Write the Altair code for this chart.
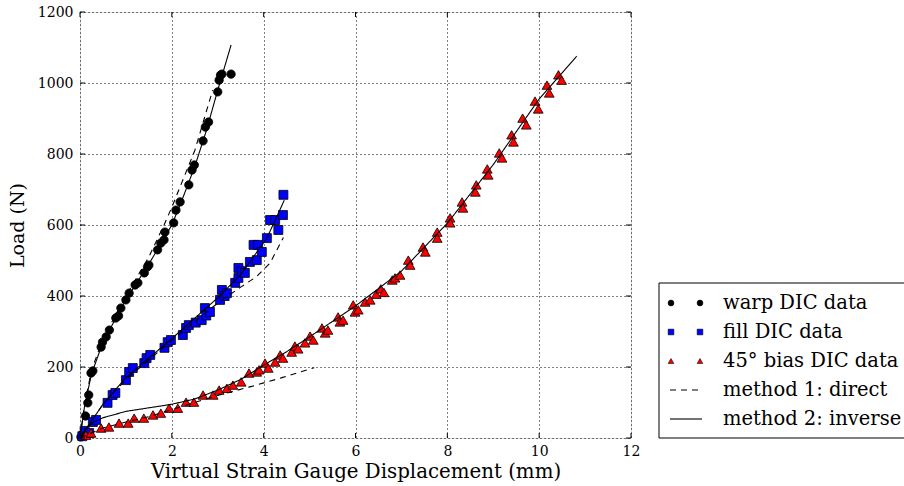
import altair as alt
import pandas as pd

# ---------------- data ----------------
warp_x = [0.02, 0.06, 0.12, 0.17, 0.19, 0.24, 0.28, 0.46, 0.49, 0.57, 0.64, 0.78, 0.84, 0.89, 1.00, 1.07,
          1.20, 1.26, 1.40, 1.47, 1.50, 1.69, 1.76, 1.83, 1.85, 2.04, 2.09, 2.18, 2.37, 2.44, 2.49, 2.68,
          2.73, 2.80, 3.00, 3.03, 3.06, 3.09, 3.29]
warp_y = [3, 11, 62, 99, 121, 183, 189, 256, 270, 285, 304, 338, 344, 366, 389, 408,
          431, 437, 465, 482, 487, 530, 549, 558, 580, 606, 642, 665, 713, 755, 769, 837,
          876, 890, 975, 1008, 1022, 1025, 1025]

fill_x = [0.05, 0.10, 0.20, 0.28, 0.35, 0.60, 0.71, 0.77, 1.00, 1.07, 1.15, 1.40, 1.45, 1.53, 1.84, 1.91,
          1.98, 2.24, 2.31, 2.37, 2.52, 2.65, 2.72, 2.75, 2.83, 3.05, 3.09, 3.15, 3.20, 3.38, 3.45, 3.45,
          3.52, 3.59, 3.70, 3.85, 3.78, 3.88, 3.96, 4.07, 4.14, 4.25, 4.32, 4.42, 4.43]
fill_y = [5, 20, 14, 45, 51, 99, 121, 127, 163, 186, 197, 211, 225, 234, 254, 270,
          276, 290, 310, 318, 325, 332, 366, 345, 355, 389, 417, 400, 408, 437, 451, 479,
          470, 465, 496, 501, 544, 544, 524, 563, 614, 614, 586, 628, 685]

bias_x = [0.13, 0.24, 0.46, 0.63, 0.85, 1.05, 1.18, 1.39, 1.59, 1.76, 1.94, 2.13, 2.31, 2.48, 2.68, 2.90,
          3.03, 3.20, 3.33, 3.51, 3.68, 3.85, 3.90, 4.03, 4.10, 4.25, 4.36, 4.42, 4.61, 4.68, 4.75, 4.90,
          5.01, 5.08, 5.27, 5.34, 5.40, 5.62, 5.66, 5.73, 5.95, 5.99, 6.06, 6.21, 6.32, 6.45, 6.55, 6.62,
          6.80, 6.86, 6.97, 7.15, 7.19, 7.47, 7.52, 7.78, 7.78, 8.06, 8.06, 8.32, 8.34, 8.61, 8.63, 8.87,
          8.89, 9.13, 9.19, 9.40, 9.44, 9.64, 9.72, 9.91, 9.98, 10.17, 10.22, 10.42, 10.49]
bias_y = [8, 14, 28, 31, 42, 42, 56, 56, 65, 70, 84, 84, 101, 101, 121, 121,
          135, 140, 149, 158, 183, 186, 192, 211, 197, 214, 234, 225, 242, 259, 251, 268,
          287, 276, 310, 296, 304, 341, 327, 332, 375, 355, 361, 383, 389, 405, 420, 410,
          445, 451, 459, 501, 487, 538, 524, 580, 563, 620, 606, 665, 648, 693, 713, 758,
          741, 803, 789, 854, 834, 901, 882, 949, 927, 994, 972, 1023, 1008]

# method 1 (direct, dashed) curves
warp_m1_x = [0.0, 0.1, 0.25, 0.5, 1.0, 1.5, 1.83, 2.0, 2.5, 2.89]
warp_m1_y = [0, 95, 190, 280, 400, 510, 600, 650, 810, 980]
fill_m1_x = [0.0, 0.5, 1.0, 2.0, 3.0, 3.5, 3.85, 4.14, 4.43]
fill_m1_y = [0, 95, 165, 275, 380, 425, 455, 493, 565]
bias_m1_x = [0.0, 0.5, 1.0, 1.5, 2.0, 2.5, 3.0, 3.7, 4.4, 5.1]
bias_m1_y = [0, 28, 45, 60, 80, 100, 120, 144, 170, 198]

# method 2 (inverse, solid) curves
warp_m2_x = [0.0, 0.1, 0.25, 0.5, 1.0, 1.5, 2.0, 2.25, 2.5, 2.75, 3.0, 3.29]
warp_m2_y = [0, 90, 180, 270, 390, 490, 600, 680, 765, 865, 980, 1107]
fill_m2_x = [0.0, 0.5, 1.0, 2.0, 3.0, 3.5, 4.07, 4.45]
fill_m2_y = [0, 95, 170, 280, 395, 460, 563, 670]
bias_m2_x = [0.0, 0.05, 0.15, 0.3, 0.5, 1.0, 1.5, 2.0, 2.5, 3.0, 3.5, 4.0, 4.5, 5.0, 6.0, 7.0, 8.0, 9.0, 10.0, 10.82]
bias_m2_y = [0, 12, 30, 45, 57, 75, 85, 95, 110, 135, 165, 205, 243, 285, 372, 470, 605, 770, 955, 1076]

x_ticks = [0, 2, 4, 6, 8, 10, 12]
y_ticks = [0, 200, 400, 600, 800, 1000, 1200]

legend_labels = ["warp DIC data", "fill DIC data", "45° bias DIC data",
                 "method 1: direct", "method 2: inverse"]

# ---------------- layout ----------------
W, H = 551, 426
FONT = "DejaVu Serif"

xs = alt.Scale(domain=[0, 12], nice=False, zero=False)
ys = alt.Scale(domain=[0, 1200], nice=False, zero=False)

X_AX = alt.Axis(values=x_ticks, grid=True, gridDash=[1, 3], gridColor="black", gridOpacity=1,
                gridWidth=1, ticks=False, domain=False, labelFont=FONT, labelFontSize=14,
                labelColor="black", labelPadding=6, title="Virtual Strain Gauge Displacement (mm)",
                titleFont=FONT, titleFontSize=19.8, titleFontWeight="normal", titleColor="black",
                titlePadding=3, format="d", labelFlush=False)
Y_AX = alt.Axis(values=y_ticks, grid=True, gridDash=[1, 3], gridColor="black", gridOpacity=1,
                gridWidth=1, ticks=False, domain=False, labelFont=FONT, labelFontSize=14,
                labelColor="black", labelPadding=7, title="Load (N)",
                titleFont=FONT, titleFontSize=19, titleFontWeight="normal", titleColor="black",
                titlePadding=10, format="d", labelFlush=False)

XE = lambda: alt.X("x:Q", scale=xs, axis=X_AX)
YE = lambda: alt.Y("y:Q", scale=ys, axis=Y_AX)


def pts(xv, yv):
    return pd.DataFrame({"x": xv, "y": yv})


base_grid = alt.Chart(pts(x_ticks, y_ticks)).mark_point(opacity=0).encode(x=XE(), y=YE())

# inner ticks
tick_len = 5
tx = pts(x_ticks, y_ticks)
ticks = [
    alt.Chart(tx).mark_rule(color="black", strokeWidth=1).encode(
        x=XE(), y=alt.value(H), y2=alt.value(H - tick_len)),
    alt.Chart(tx).mark_rule(color="black", strokeWidth=1).encode(
        x=XE(), y=alt.value(0), y2=alt.value(tick_len)),
    alt.Chart(tx).mark_rule(color="black", strokeWidth=1).encode(
        y=YE(), x=alt.value(0), x2=alt.value(tick_len)),
    alt.Chart(tx).mark_rule(color="black", strokeWidth=1).encode(
        y=YE(), x=alt.value(W), x2=alt.value(W - tick_len)),
]


def scatter(xv, yv, shape, color, size):
    return alt.Chart(pts(xv, yv)).mark_point(
        shape=shape, filled=True, fill=color, stroke="black", strokeWidth=0.8,
        size=size, opacity=1).encode(x=XE(), y=YE())


def curve(xv, yv, dash):
    m = alt.Chart(pts(xv, yv)).mark_line(color="black", strokeWidth=1.1,
                                          strokeDash=dash if dash else [1, 0])
    return m.encode(x=XE(), y=YE())


DASH = [6, 5]
layers = [base_grid]
layers += [
    scatter(warp_x, warp_y, "circle", "black", 70),
    scatter(fill_x, fill_y, "square", "#0000ff", 80),
    scatter(bias_x, bias_y, "triangle-up", "#ff0000", 95),
    curve(warp_m1_x, warp_m1_y, DASH),
    curve(fill_m1_x, fill_m1_y, DASH),
    curve(bias_m1_x, bias_m1_y, DASH),
    curve(warp_m2_x, warp_m2_y, None),
    curve(fill_m2_x, fill_m2_y, None),
    curve(bias_m2_x, bias_m2_y, None),
]
layers += ticks

# ---------------- manual legend ----------------
one = pd.DataFrame({"a": [0]})
LX0, LY0 = 579, 271
LX1, LY1 = W + 280, H
layers.append(alt.Chart(one).mark_rect(fill="white", stroke="black", strokeWidth=1).encode(
    x=alt.value(LX0), x2=alt.value(LX1), y=alt.value(LY0), y2=alt.value(LY1)))

row_y = [291, 320, 349, 378, 407]
mk = [("circle", "black", 34), ("square", "#0000ff", 32), ("triangle-up", "#ff0000", 32)]
for i, (shape, color, size) in enumerate(mk):
    for mx in (591, 620):
        layers.append(alt.Chart(one).mark_point(
            shape=shape, filled=True, fill=color, stroke="black", strokeWidth=0.6,
            size=size, opacity=1).encode(x=alt.value(mx), y=alt.value(row_y[i])))
layers.append(alt.Chart(one).mark_rule(color="black", strokeWidth=1.1, strokeDash=DASH).encode(
    x=alt.value(590), x2=alt.value(622), y=alt.value(row_y[3])))
layers.append(alt.Chart(one).mark_rule(color="black", strokeWidth=1.1).encode(
    x=alt.value(590), x2=alt.value(622), y=alt.value(row_y[4])))
for i, lab in enumerate(legend_labels):
    layers.append(alt.Chart(one).mark_text(
        text=lab, font=FONT, fontSize=19.5, align="left", baseline="middle", color="black").encode(
        x=alt.value(643), y=alt.value(row_y[i])))

chart = alt.layer(*layers).properties(
    width=W, height=H,
    autosize=alt.AutoSizeParams(type="none"),
    padding={"left": 80, "top": 12, "right": 273, "bottom": 48},
).configure_view(stroke="black", strokeWidth=1.2).configure(background="white")

chart.save("out.html", embed_options={"renderer": "svg", "actions": False})
